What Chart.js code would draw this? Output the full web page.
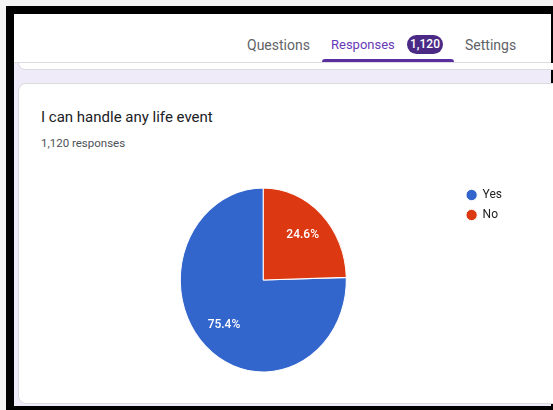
<!DOCTYPE html>
<html>
<head>
<meta charset="utf-8">
<title>I can handle any life event</title>
<script src="https://cdn.jsdelivr.net/npm/chart.js@4.4.0/dist/chart.umd.min.js"></script>
<style>
    body {
        margin: 0;
        width: 553px;
        height: 410px;
        overflow: hidden;
        position: relative;
        background: #f4f4f5;
        font-family: Roboto, "Noto Sans", Arial, sans-serif;
    }
    .frame {
        position: absolute;
        left: 6px;
        top: 6px;
        width: 547px;
        height: 404px;
        box-sizing: border-box;
        background: #f0ebf8;
        border-left: 8px solid #000;
        border-top: 8px solid #000;
        border-right: 2px solid #000;
        border-bottom: 4px solid #000;
    }
    .header {
        position: absolute;
        left: 14px;
        top: 14px;
        width: 537px;
        height: 48px;
        background: #fff;
        border-bottom: 1px solid #dadce0;
    }
    .prev-card {
        position: absolute;
        left: 18px;
        top: 63px;
        width: 545px;
        height: 6px;
        background: #fff;
        border: 1px solid #dadce0;
        border-top: none;
        border-radius: 0 0 8px 8px;
    }
    .card {
        position: absolute;
        left: 18px;
        top: 83px;
        width: 545px;
        height: 321px;
        box-sizing: border-box;
        background: #fff;
        border: 1px solid #dadce0;
        border-radius: 8px;
    }
    .tab {
        position: absolute;
        top: 36px;
        line-height: 18px;
        font-size: 14px;
        color: #5f6368;
        white-space: nowrap;
    }
    .tab.active {
        color: #673ab7;
        font-size: 13px;
    }
    .badge {
        position: absolute;
        left: 407px;
        top: 35px;
        width: 36px;
        height: 19px;
        line-height: 19px;
        border-radius: 10px;
        background: #4b2a86;
        color: #fff;
        font-size: 12px;
        font-weight: 500;
        text-align: center;
    }
    .underline {
        position: absolute;
        left: 322px;
        top: 59px;
        width: 132px;
        height: 3px;
        border-radius: 3px 3px 0 0;
        background: #5a2e9e;
    }
    .title {
        position: absolute;
        left: 41px;
        top: 107px;
        line-height: 20px;
        font-size: 15px;
        color: #202124;
        white-space: nowrap;
    }
    .count {
        position: absolute;
        left: 41px;
        top: 136px;
        line-height: 15px;
        font-size: 11.5px;
        color: #4d5156;
        white-space: nowrap;
    }
    .chart-box {
        position: absolute;
        left: 68px;
        top: 181px;
        width: 444px;
        height: 198px;
    }
</style>
</head>
<body>
    <div class="frame"></div>
    <div class="header"></div>
    <div class="prev-card"></div>
    <div class="card"></div>

    <div class="tab" style="left:247px">Questions</div>
    <div class="tab active" style="left:331px">Responses</div>
    <div class="badge">1,120</div>
    <div class="tab" style="left:465px">Settings</div>
    <div class="underline"></div>

    <div class="title">I can handle any life event</div>
    <div class="count">1,120 responses</div>

    <div class="chart-box"><canvas id="pieChart"></canvas></div>

<script>
// Chart data
const answers = ['Yes', 'No'];
const responseCounts = [845, 275];
const sliceColors = ['#3366cc', '#dc3912'];

document.addEventListener('DOMContentLoaded', function() {
    const total = responseCounts.reduce((acc, v) => acc + v, 0);

    // The screenshot shows the pie a little taller than wide
    const stretchY = 92 / 83;

    // Start "Yes" where "No" ends, so "No" sits in the top right quarter
    const startAngle = 360 * responseCounts[1] / total;

    // Stretch the slices vertically and write the percentages on them
    const pieLook = {
        id: 'pieLook',
        beforeDatasetsDraw(chart) {
            const arc = chart.getDatasetMeta(0).data[0];
            const ctx = chart.ctx;
            ctx.save();
            ctx.translate(arc.x, arc.y);
            ctx.scale(1, stretchY);
            ctx.translate(-arc.x, -arc.y);
        },
        afterDatasetsDraw(chart) {
            const ctx = chart.ctx;
            ctx.restore();

            ctx.save();
            ctx.fillStyle = '#ffffff';
            ctx.font = '500 12px Roboto';
            ctx.textAlign = 'center';
            ctx.textBaseline = 'middle';
            chart.getDatasetMeta(0).data.forEach((arc, i) => {
                const mid = (arc.startAngle + arc.endAngle) / 2;
                const r = arc.outerRadius * 0.68;
                const x = arc.x + Math.cos(mid) * r;
                const y = arc.y + Math.sin(mid) * r * stretchY;
                const pct = (responseCounts[i] / total * 100).toFixed(1) + '%';
                ctx.fillText(pct, x, y);
            });
            ctx.restore();
        }
    };

    const pieCtx = document.getElementById('pieChart').getContext('2d');
    new Chart(pieCtx, {
        type: 'pie',
        data: {
            labels: answers,
            datasets: [{
                data: responseCounts,
                backgroundColor: sliceColors,
                borderColor: '#ffffff',
                borderWidth: 1,
                radius: 83,
                clip: false
            }]
        },
        options: {
            responsive: true,
            maintainAspectRatio: false,
            animation: false,
            rotation: startAngle,
            layout: { padding: 0 },
            plugins: {
                legend: {
                    position: 'right',
                    align: 'start',
                    labels: {
                        usePointStyle: true,
                        pointStyle: 'circle',
                        boxWidth: 10,
                        boxHeight: 8,
                        padding: 8,
                        color: '#222222',
                        font: { family: 'Roboto', size: 12 }
                    }
                },
                tooltip: { enabled: false }
            }
        },
        plugins: [pieLook]
    });
});
</script>
</body>
</html>
